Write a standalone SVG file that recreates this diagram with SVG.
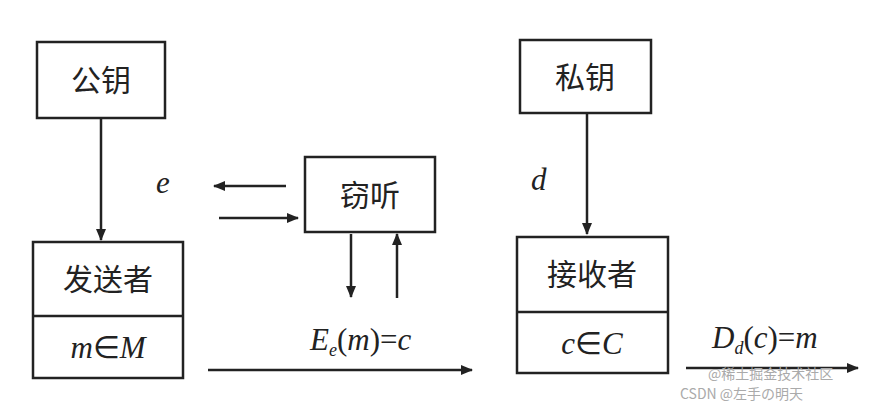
<svg xmlns="http://www.w3.org/2000/svg" width="876" height="404" viewBox="0 0 876 404">
<defs>
<marker id="ah" markerWidth="12" markerHeight="10" refX="11" refY="5" orient="auto" markerUnits="userSpaceOnUse"><path d="M0,0 L12,5 L0,10 Z" fill="#222"/></marker>
<style>
.box{fill:#fff;stroke:#222;stroke-width:2.5}
.ln{stroke:#222;stroke-width:2.5;fill:none;marker-end:url(#ah)}
.cn{font-family:"Noto Sans CJK SC",sans-serif;font-size:30px;fill:#222;text-anchor:middle}
.m{font-family:"Liberation Serif",serif;font-style:italic;font-size:31px;fill:#222}
.wm{font-family:"Noto Sans CJK SC",sans-serif;font-size:14px;fill:#aaa}
</style>
</defs>
<rect width="876" height="404" fill="#fff"/>
<g id="connectors">
<line class="ln" x1="101" y1="119" x2="101" y2="240"/>
<line class="ln" x1="286" y1="186" x2="214" y2="186"/>
<line class="ln" x1="219" y1="218" x2="298" y2="218"/>
<line class="ln" x1="351" y1="234" x2="351" y2="297"/>
<line class="ln" x1="397" y1="298" x2="397" y2="234"/>
<line class="ln" x1="208" y1="370" x2="472" y2="370"/>
<line class="ln" x1="587" y1="114" x2="587" y2="234"/>
<line class="ln" x1="686" y1="368" x2="858" y2="368"/>
</g>
<g id="pubkey"><rect class="box" x="37" y="42" width="128" height="76"/><text class="cn" x="101" y="91">公钥</text></g>
<g id="sender"><rect class="box" x="33" y="242" width="150" height="136"/><line x1="33" y1="316" x2="183" y2="316" stroke="#222" stroke-width="2.5"/><text class="cn" x="108" y="290">发送者</text><text class="m" x="108" y="358" text-anchor="middle">m<tspan font-style="normal">∈</tspan>M</text></g>
<g id="eve"><rect class="box" x="305" y="157" width="130" height="75"/><text class="cn" x="370" y="206">窃听</text></g>
<g id="privkey"><rect class="box" x="520" y="40" width="131" height="73"/><text class="cn" x="585" y="88">私钥</text></g>
<g id="receiver"><rect class="box" x="517" y="237" width="151" height="136"/><line x1="517" y1="312" x2="668" y2="312" stroke="#222" stroke-width="2.5"/><text class="cn" x="592" y="285">接收者</text><text class="m" x="592" y="354" text-anchor="middle">c<tspan font-style="normal">∈</tspan>C</text></g>
<g id="labels">
<text class="m" x="156" y="193">e</text>
<text class="m" x="531" y="190">d</text>
<text class="m" x="310" y="350">E<tspan font-size="18" dy="6">e</tspan><tspan dy="-6" font-style="normal">(</tspan>m<tspan font-style="normal">)=</tspan>c</text>
<text class="m" x="712" y="348">D<tspan font-size="18" dy="6">d</tspan><tspan dy="-6" font-style="normal">(</tspan>c<tspan font-style="normal">)=</tspan>m</text>
<text class="wm" x="708" y="379">@稀土掘金技术社区</text>
<text class="wm" x="680" y="399">CSDN @左手の明天</text>
</g>
</svg>
